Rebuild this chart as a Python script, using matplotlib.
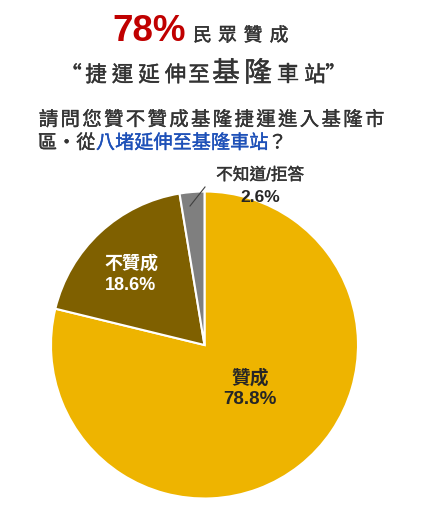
import matplotlib
matplotlib.use("Agg")
import matplotlib.pyplot as plt
from matplotlib.lines import Line2D
import matplotlib.patheffects as pe

plt.rcParams['font.family'] = ['Noto Sans CJK TC', 'DejaVu Sans']

# ---- data ----
categories = ["贊成", "不贊成", "不知道/拒答"]
values = [78.8, 18.6, 2.6]
colors = ["#EEB400", "#7F6000", "#7F7F7F"]
value_labels = ["78.8%", "18.6%", "2.6%"]

title_big = "78%"
title_rest = "民眾贊成"
subtitle_parts = ["“捷運延伸至", "基隆", "車站”"]
question_line1 = "請問您贊不贊成基隆捷運進入基隆市"
question_line2_a = "區‧從"
question_line2_b = "八堵延伸至基隆車站"
question_line2_c = "？"

W, H = 432, 512
fig = plt.figure(figsize=(W / 100, H / 100), dpi=100)
fig.patch.set_facecolor("white")

LAT = ['Liberation Sans', 'Noto Sans CJK TC']
CJK = ['Noto Sans CJK TC', 'DejaVu Sans']


def thick(color, lw=0.3):
    return [pe.Stroke(linewidth=lw, foreground=color), pe.Normal()]


def chars(centers, baseline, text, **props):
    for c, ch in zip(centers, text):
        fig.text(c / W, 1 - baseline / H, ch, ha='center', va='baseline', **props)


def px(x, y):
    return x / W, 1 - y / H


dark = '#333333'

# Title line 1
fig.text(*px(112, 41), title_big, ha='left', va='baseline', family=LAT,
         fontsize=26.5, fontweight='bold', color='#C00000')
chars([202.5, 227.5, 253, 279], 41, title_rest, family=CJK, fontsize=13.5,
      color=dark, path_effects=thick(dark))

# Title line 2
sub_centers_a = [71, 96, 122.5, 149, 175.5, 199]
sub_centers_b = [226, 258]
sub_centers_c = [288, 315, 336]
chars(sub_centers_a, 81.5, subtitle_parts[0], family=CJK, fontsize=15.5,
      color=dark, path_effects=thick(dark))
chars(sub_centers_b, 81.5, subtitle_parts[1], family=CJK, fontsize=20,
      color=dark, path_effects=thick(dark))
chars(sub_centers_c, 81.5, subtitle_parts[2], family=CJK, fontsize=15.5,
      color=dark, path_effects=thick(dark))

# Question
qprops = dict(family=CJK, fontsize=14, color=dark, path_effects=thick(dark, 0.25))
blue = '#1D50B8'
line1_centers = [48.5 + 21.75 * i for i in range(len(question_line1))]
chars(line1_centers, 125.5, question_line1, **qprops)
q2 = dict(family=CJK, fontsize=13.8, ha='center', va='baseline')
fig.text(*px(66.5, 148.5), question_line2_a, color=dark,
         path_effects=thick(dark, 0.25), **q2)
fig.text(*px(182, 148.5), question_line2_b, color=blue,
         path_effects=thick(blue, 0.25), **q2)
fig.text(*px(277.5, 148.5), question_line2_c, color=dark,
         path_effects=thick(dark, 0.25), **q2)

# Pie
cx, cy, r = 204.5, 345.0, 153.5
ax = fig.add_axes([(cx - r) / W, (H - cy - r) / H, 2 * r / W, 2 * r / H])
ax.pie(values, colors=colors, startangle=90, counterclock=False, radius=1,
       wedgeprops=dict(edgecolor='white', linewidth=1.5))
ax.set_xlim(-1, 1)
ax.set_ylim(-1, 1)
ax.set_aspect('equal')
ax.axis('off')

# Labels
lbl_dark = '#262626'
fig.text(*px(250, 378), categories[0], ha='center', va='center', family=LAT,
         fontsize=13.5, fontweight='bold', color=lbl_dark)
fig.text(*px(250, 400), value_labels[0], ha='center', va='center', family=LAT,
         fontsize=13.5, fontweight='bold', color=lbl_dark)
fig.text(*px(131, 264), categories[1], ha='center', va='center', family=LAT,
         fontsize=13, fontweight='bold', color='white')
fig.text(*px(131, 285), value_labels[1], ha='center', va='center', family=LAT,
         fontsize=13, fontweight='bold', color='white')
fig.text(*px(260, 175), categories[2], ha='center', va='center', family=LAT,
         fontsize=12, color=dark, path_effects=thick(dark, 0.3))
fig.text(*px(260, 197), value_labels[2], ha='center', va='center', family=LAT,
         fontsize=12.5, fontweight='bold', color=lbl_dark)

fig.add_artist(Line2D([190 / W, 205 / W], [1 - 206 / H, 1 - 187 / H],
                      color='#404040', linewidth=0.8))

fig.savefig("out.png", dpi=100, facecolor='white')
